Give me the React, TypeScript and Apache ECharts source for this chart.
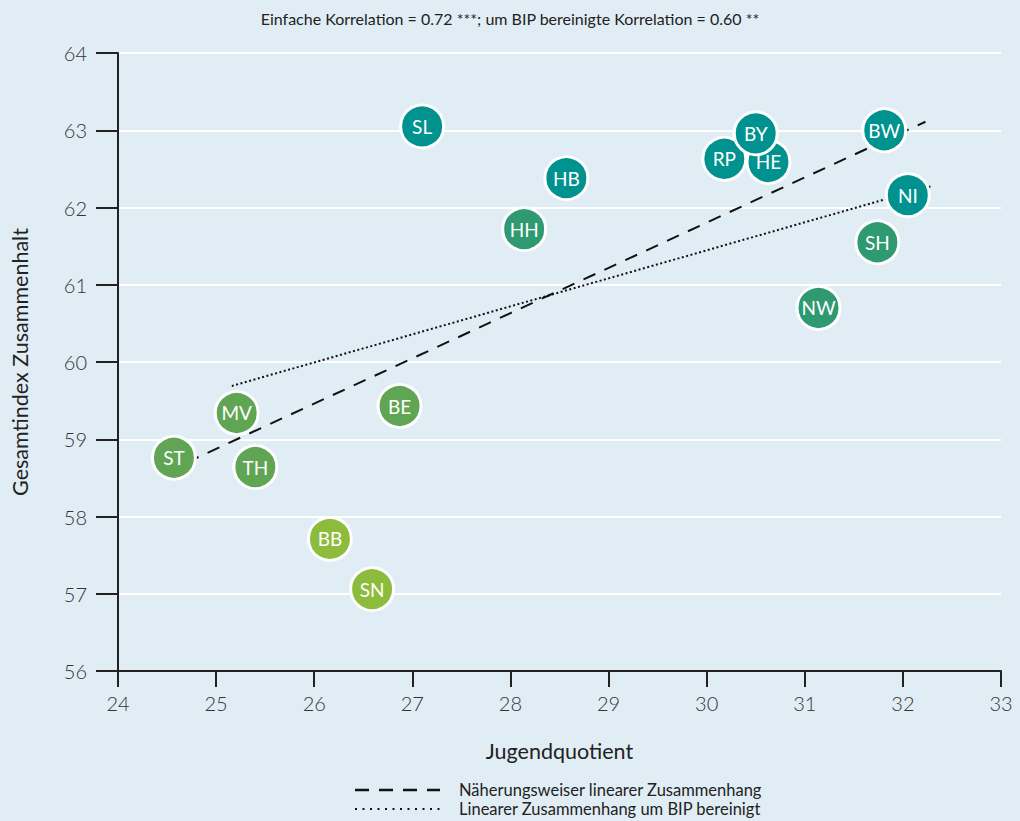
import React, { useEffect, useRef } from "react";
import * as echarts from "echarts";

const states = ["SL", "HB", "HH", "HE", "RP", "BY", "BW", "NI", "SH", "NW", "BE", "MV", "ST", "TH", "BB", "SN"];
const jugendquotient = [27.1, 28.57, 28.14, 30.63, 30.18, 30.5, 31.81, 32.05, 31.74, 31.14, 26.87, 25.21, 24.57, 25.4, 26.16, 26.59];
const zusammenhalt = [63.05, 62.38, 61.72, 62.59, 62.63, 62.96, 63.0, 62.16, 61.55, 60.7, 59.43, 59.34, 58.76, 58.64, 57.71, 57.06];
const groups = [0, 0, 1, 0, 0, 0, 0, 0, 1, 1, 2, 2, 2, 2, 3, 3];
const groupColors = ["#00928f", "#2f9a72", "#5fa553", "#8dbb3c"];

const trendX = [24.7, 32.23];
const trendY = [58.7, 63.11];
const adjX = [25.16, 32.3];
const adjY = [59.69, 62.28];

const yTicks = [56, 57, 58, 59, 60, 61, 62, 63, 64];
const xTicks = [24, 25, 26, 27, 28, 29, 30, 31, 32, 33];

const FONT = "Lato, 'Noto Sans', sans-serif";

export default function App() {
  const ref = useRef<HTMLDivElement>(null);
  useEffect(() => {
    if (!ref.current) return;
    const chart = echarts.init(ref.current, undefined, { renderer: "svg" });
    chart.setOption({
      animation: false,
      backgroundColor: "#e1edf5",
      textStyle: { fontFamily: FONT },
      title: {
        text: "Einfache Korrelation = 0.72 ***; um BIP bereinigte Korrelation = 0.60 **",
        left: "center",
        top: 5,
        textStyle: { fontSize: 16, fontWeight: "normal", color: "#222", fontFamily: FONT },
      },
      grid: { left: 118, right: 19, top: 53, bottom: 150, containLabel: false, outerBoundsMode: "none" },
      xAxis: {
        type: "value",
        min: xTicks[0],
        max: xTicks[xTicks.length - 1],
        interval: 1,
        name: "Jugendquotient",
        nameLocation: "middle",
        nameGap: 69,
        nameTextStyle: { fontSize: 21.5, color: "#222", fontFamily: FONT },
        axisLine: { show: true, lineStyle: { color: "#222", width: 2 } },
        axisTick: { show: true, length: 16, lineStyle: { color: "#222", width: 2 } },
        axisLabel: { margin: 22, fontSize: 20, fontWeight: 300, color: "#333", fontFamily: FONT },
        splitLine: { show: false },
      },
      yAxis: {
        type: "value",
        min: yTicks[0],
        max: yTicks[yTicks.length - 1],
        interval: 1,
        name: "Gesamtindex Zusammenhalt",
        nameLocation: "middle",
        nameGap: 87,
        nameTextStyle: { fontSize: 21.5, color: "#222", fontFamily: FONT },
        axisLine: { show: true, onZero: false, lineStyle: { color: "#222", width: 2 } },
        axisTick: { show: true, length: 22, lineStyle: { color: "#222", width: 2 } },
        axisLabel: { margin: 31, fontSize: 20, fontWeight: 300, color: "#333", fontFamily: FONT },
        splitLine: { show: true, lineStyle: { color: "#ffffff", width: 2 } },
      },
      series: [
        {
          type: "line",
          data: trendX.map((x, i) => [x, trendY[i]]),
          showSymbol: false,
          symbol: "none",
          lineStyle: { color: "#111", width: 2, type: [13, 10] },
          z: 3,
          silent: true,
        },
        {
          type: "line",
          data: adjX.map((x, i) => [x, adjY[i]]),
          showSymbol: false,
          symbol: "none",
          lineStyle: { color: "#111", width: 2, type: [2, 2.5] },
          z: 3,
          silent: true,
        },
        {
          type: "scatter",
          z: 5,
          symbolSize: 43,
          data: states.map((s, i) => ({
            name: s,
            value: [jugendquotient[i], zusammenhalt[i]],
            itemStyle: { color: groupColors[groups[i]], borderColor: "#ffffff", borderWidth: 3, opacity: 1 },
          })),
          label: {
            show: true,
            position: "inside",
            formatter: (p: any) => p.name,
            color: "#ffffff",
            fontSize: 19,
            fontFamily: FONT,
          },
        },
      ],
      graphic: [
        {
          type: "line",
          shape: { x1: 355, y1: 790, x2: 440, y2: 790 },
          style: { stroke: "#111", lineWidth: 2.5, lineDash: [14, 10] },
        },
        {
          type: "text",
          left: 459,
          top: 781,
          style: { text: "Näherungsweiser linearer Zusammenhang", fontSize: 16.5, fill: "#222", fontFamily: FONT },
        },
        {
          type: "line",
          shape: { x1: 355, y1: 809, x2: 440, y2: 809 },
          style: { stroke: "#111", lineWidth: 2, lineDash: [2, 5.5] },
        },
        {
          type: "text",
          left: 459,
          top: 800,
          style: { text: "Linearer Zusammenhang um BIP bereinigt", fontSize: 16.5, fill: "#222", fontFamily: FONT },
        },
      ],
    });
    return () => chart.dispose();
  }, []);
  return <div ref={ref} style={{ width: 1020, height: 821, position: "absolute", left: 0, top: 0 }} />;
}
